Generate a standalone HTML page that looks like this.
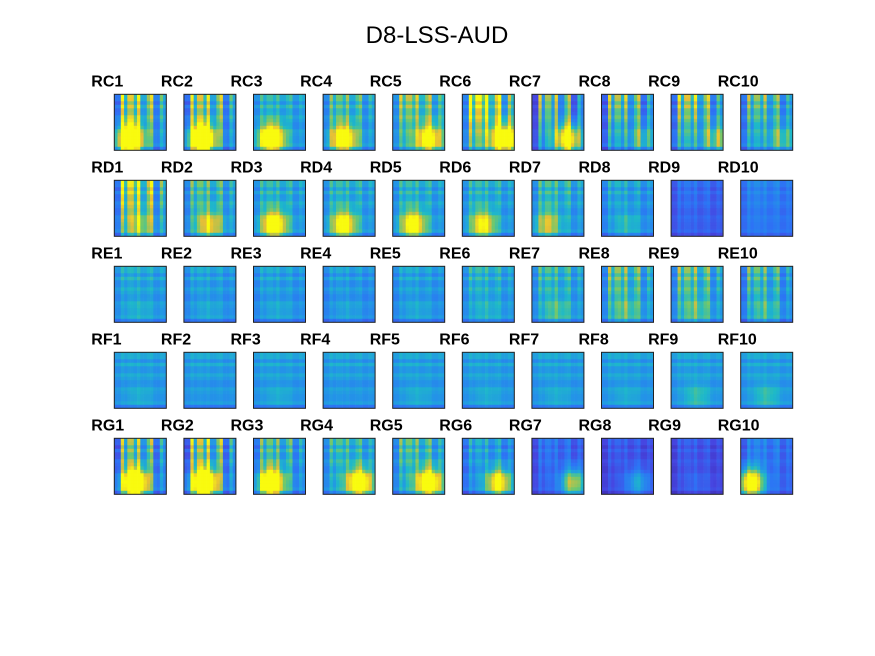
<!DOCTYPE html>
<html><head><meta charset="utf-8"><style>
body{margin:0;background:#fff;}
svg{display:block;font-family:"Liberation Sans",sans-serif;}
</style></head><body>
<svg id="fig" width="875" height="656">
<rect width="875" height="656" fill="#fff"/>
<text x="437" y="43" text-anchor="middle" font-size="24">D8-LSS-AUD</text>
<g id="tiles"></g>
</svg>
<script>
const rowNames=["RC","RD","RE","RF","RG"];
const base=[.42,.4,.45,.45,.5,.5,.3,.35,.4,.4,
 .45,.45,.45,.45,.45,.45,.45,.4,.22,.3,
 .45,.42,.42,.4,.42,.45,.45,.45,.45,.4,
 .45,.45,.45,.45,.45,.45,.45,.45,.45,.45,
 .35,.35,.4,.45,.45,.35,.2,.15,.15,.25];
const blob=[1.2,1.2,1,.8,.7,.9,.9,.3,.4,.3,
 .3,.5,.8,.7,.7,.6,.4,.2,0,0,
 .1,.1,.1,.1,.1,.1,.2,.2,.2,.2,
 .1,0,.1,0,.1,.1,.1,.1,.2,.2,
 1.2,1.2,1,.9,.9,.8,.7,.4,.1,1];
const blobX=[.3,.35,.35,.4,.7,.8,.7,.8,.9,.8,
 .5,.5,.4,.4,.4,.4,.3,.5,.5,.5,
 .5,.5,.5,.5,.5,.5,.5,.5,.5,.5,
 .5,.5,.5,.5,.5,.5,.5,.5,.5,.5,
 .4,.4,.35,.7,.7,.7,.8,.7,.5,.2];
const stripes=[.9,.9,.3,.5,.6,1,1,.9,.9,.7,
 1,.5,.3,.3,.3,.3,.4,.3,.2,.2,
 .2,.2,.2,.2,.2,.3,.4,.6,.6,.6,
 .1,.1,.1,.1,.1,.1,.1,.1,.1,.1,
 .9,1,.6,.4,.5,.4,.3,.2,.2,.3];
const stripePattern=[-.3,1,.2,.8,.3,1,.1,.6,.9,-.2,.5,.1];
const rowPattern=[.1,-.1,.15,-.05,.1,0,-.1,.05,0,-.05,.05,-.3];
const stops=[[0,62,38,168],[.15,70,70,225],[.3,45,115,245],[.45,35,150,230],[.58,30,185,200],[.72,110,200,110],[.86,230,190,55],[1,249,251,14]];
function parula(v){v=Math.max(0,Math.min(1,v));for(let i=1;i<stops.length;i++){if(v<=stops[i][0]){const a=stops[i-1],b=stops[i],t=(v-a[0])/(b[0]-a[0]);return `rgb(${Math.round(a[1]+t*(b[1]-a[1]))},${Math.round(a[2]+t*(b[2]-a[2]))},${Math.round(a[3]+t*(b[3]-a[3]))})`;}}return "rgb(249,251,14)";}
const x0=114.3,dx=69.6,y0=94.3,dy=86,W=52,H=56,N=16;
const g=document.getElementById('tiles');
const ns="http://www.w3.org/2000/svg";
for(let r=0;r<5;r++)for(let c=0;c<10;c++){
 const k=r*10+c,tx=x0+c*dx,ty=y0+r*dy;
 const lab=document.createElementNS(ns,'text');
 lab.setAttribute('x',tx-23);lab.setAttribute('y',ty-8);
 lab.setAttribute('font-size','16');lab.setAttribute('font-weight','bold');
 lab.textContent=rowNames[r]+(c+1);
 
 
 g.appendChild(lab);
 const tg=document.createElementNS(ns,'g');
 
 
 for(let i=0;i<N;i++)for(let j=0;j<N;j++){
  const u=(j+.5)/N,w=(i+.5)/N;
  const sp=stripePattern[Math.floor(j*12/N)],rp=rowPattern[Math.floor(i*12/N)];
  let v=base[k]+stripes[k]*sp*(1-w*0.6)*0.6+rp*0.5*(base[k]>0.3?1:0.5);
  const d=((u-blobX[k])**2)/0.06+((w-0.8)**2)/0.07;
  v+=blob[k]*Math.exp(-d)*0.9;
  const cell=document.createElementNS(ns,'rect');
  cell.setAttribute('x',tx+j*W/N);cell.setAttribute('y',ty+i*H/N);
  cell.setAttribute('width',W/N+0.3);cell.setAttribute('height',H/N+0.3);
  cell.setAttribute('fill',parula(v));
  
  
  tg.appendChild(cell);
 }
 const bd=document.createElementNS(ns,'rect');
 bd.setAttribute('x',tx);bd.setAttribute('y',ty);bd.setAttribute('width',W);bd.setAttribute('height',H);
 bd.setAttribute('fill','none');bd.setAttribute('stroke','#222');bd.setAttribute('stroke-width','1');
 
 
 tg.appendChild(bd);
 g.appendChild(tg);
}
</script>
</body></html>
